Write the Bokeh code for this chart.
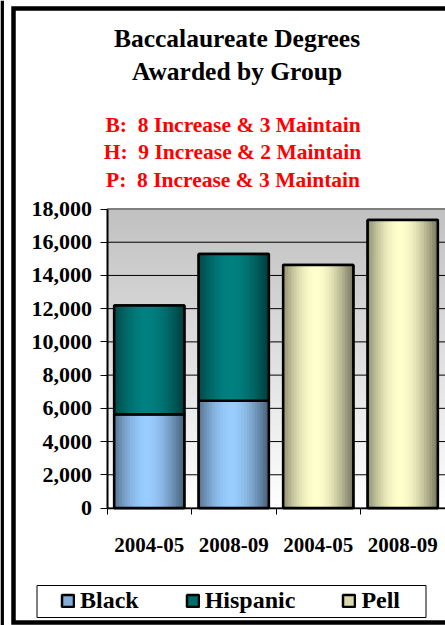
import math
from bokeh.plotting import figure
from bokeh.models import (Range1d, FixedTicker, NumeralTickFormatter, Label, Legend,
                          LegendItem, PolyAnnotation, ColumnDataSource)
from bokeh.embed import file_html
from bokeh.resources import INLINE

# ---------------- data ----------------
title_lines = ["Baccalaureate Degrees", "Awarded by Group"]
note_lines = ["B:\u00a0 8 Increase & 3 Maintain",
              "H:\u00a0 9 Increase & 2 Maintain",
              "P:\u00a0 8 Increase & 3 Maintain"]
years = ["2004-05", "2008-09", "2004-05", "2008-09"]
black = [5640, 6460]          # bars 1-2 (bottom segment)
hispanic = [6550, 8830]       # bars 1-2 (stacked on top)
pell = [14630, 17340]         # bars 3-4
y_ticks = [0, 2000, 4000, 6000, 8000, 10000, 12000, 14000, 16000, 18000]
series_names = ["Black", "Hispanic", "Pell"]

# ---------------- layout / styles ----------------
W, H = 445, 625
FONT = "Liberation Serif"
C_BLACK = (153, 204, 255)
C_HISP = (0, 128, 128)
C_PELL = (255, 255, 204)
BAR_W = 0.83
N_STRIPS = 26
YMAX = y_ticks[-1]
NCAT = len(years)

# plot area placement in canvas pixels
PX_L, PX_R = 106.5, 444.5      # x of category 0 edge and category 4 edge
PY_B, PY_T = 507.5, 208.5      # y of value 0 and value YMAX (from top)
ux = NCAT / (PX_R - PX_L)
uy = YMAX / (PY_B - PY_T)
x_range = Range1d(-PX_L * ux, NCAT + (W - PX_R) * ux)
y_range = Range1d(-(H - PY_B) * uy, YMAX + PY_T * uy)

p = figure(width=W, height=H, output_backend="svg", toolbar_location=None, tools="",
           x_range=x_range, y_range=y_range,
           min_border_left=0, min_border_right=0, min_border_top=0, min_border_bottom=0)
p.background_fill_color = "white"
p.border_fill_color = "white"
p.outline_line_color = None
p.xgrid.visible = False
p.ygrid.visible = False

# plot-area background: vertical gradient (grey at top to white at bottom)
nb = 60
bands = dict(bottom=[], top=[], color=[])
for i in range(nb):
    frac = (i + 0.5) / nb
    g = int(round(255 - (255 - 192) * frac))
    bands["bottom"].append(YMAX * i / nb)
    bands["top"].append(YMAX * (i + 1.2) / nb if i < nb - 1 else YMAX)
    bands["color"].append("#%02x%02x%02x" % (g, g, g))
p.quad(left=0, right=NCAT, bottom="bottom", top="top", fill_color="color",
       line_color=None, source=ColumnDataSource(bands))

# horizontal grid lines across the plot area
p.segment(x0=0, x1=NCAT, y0=y_ticks[:-1], y1=y_ticks[:-1], line_color="black", line_width=1)
p.segment(x0=0, x1=NCAT, y0=[YMAX], y1=[YMAX], line_color="#808080", line_width=2)


def hexcol(rgb, f):
    return "#%02x%02x%02x" % tuple(max(0, min(255, int(round(c * f)))) for c in rgb)


def shade(t):
    return 0.5 + 0.5 * math.cos(math.pi * (t - 0.47) / 1.02)


def strips(centers, bottoms, tops, rgb):
    d = dict(x=[], bottom=[], top=[], color=[])
    w = BAR_W / N_STRIPS
    for xc, b, tp in zip(centers, bottoms, tops):
        for i in range(N_STRIPS):
            t = (i + 0.5) / N_STRIPS
            d["x"].append(xc - BAR_W / 2 + (i + 0.5) * w)
            d["bottom"].append(b)
            d["top"].append(tp)
            d["color"].append(hexcol(rgb, shade(t)))
    return ColumnDataSource(d), w


centers_bh = [0.5, 1.5]
centers_p = [2.5, 3.5]
hisp_top = [b + h for b, h in zip(black, hispanic)]

segments = [
    ("Black", centers_bh, [0, 0], black, C_BLACK),
    ("Hispanic", centers_bh, black, hisp_top, C_HISP),
    ("Pell", centers_p, [0, 0], pell, C_PELL),
]
legend_renderers = {}
for name, xs, bots, tops, rgb in segments:
    base = p.vbar(x=xs, bottom=bots, top=tops, width=BAR_W, fill_color=hexcol(rgb, 0.85),
                  line_color="black", line_width=2.5)
    legend_renderers[name] = base
    src, w = strips(xs, bots, tops, rgb)
    p.vbar(x="x", bottom="bottom", top="top", width=w * 1.25, fill_color="color",
           line_color=None, source=src)
    p.vbar(x=xs, bottom=bots, top=tops, width=BAR_W, fill_color=None,
           line_color="black", line_width=2.5)

# ---------------- axes (pinned to the plot area) ----------------
p.yaxis.fixed_location = 0
p.yaxis.bounds = (0, YMAX)
p.yaxis.ticker = FixedTicker(ticks=y_ticks)
p.yaxis.formatter = NumeralTickFormatter(format="0,0")
p.yaxis.major_label_text_font = FONT
p.yaxis.major_label_text_font_style = "bold"
p.yaxis.major_label_text_font_size = "22px"
p.yaxis.major_label_text_color = "black"
p.yaxis.major_tick_in = 0
p.yaxis.major_tick_out = 7
p.yaxis.major_tick_line_color = "black"
p.yaxis.minor_tick_line_color = None
p.yaxis.axis_line_color = "black"
p.yaxis.axis_line_width = 2
p.yaxis.major_label_standoff = 8

centers = [i + 0.5 for i in range(NCAT)]
p.xaxis.fixed_location = 0
p.xaxis.bounds = (0, NCAT)
p.xaxis.ticker = FixedTicker(ticks=centers, minor_ticks=list(range(NCAT + 1)))
p.xaxis.major_label_overrides = {c: lab for c, lab in zip(centers, years)}
p.xaxis.major_tick_line_color = None
p.xaxis.major_tick_in = 0
p.xaxis.major_tick_out = 0
p.xaxis.minor_tick_in = 0
p.xaxis.minor_tick_out = 6
p.xaxis.minor_tick_line_color = "black"
p.xaxis.minor_tick_line_width = 1
p.xaxis.axis_line_color = "black"
p.xaxis.axis_line_width = 1.5
p.xaxis.major_label_text_font = FONT
p.xaxis.major_label_text_font_style = "bold"
p.xaxis.major_label_text_font_size = "21px"
p.xaxis.major_label_text_color = "black"
p.xaxis.major_label_standoff = 24

# ---------------- titles ----------------
for txt, (xx, yy) in zip(title_lines, [(236.5, 38), (236.5, 71)]):
    p.add_layout(Label(x=xx, y=H - yy, x_units="screen", y_units="screen", text=txt,
                       text_align="center", text_baseline="middle", text_font=FONT,
                       text_font_style="bold", text_font_size="25.5px", text_color="black"))
for txt, (xx, yy) in zip(note_lines, [(232.5, 124), (232, 151.5), (232.5, 179)]):
    p.add_layout(Label(x=xx, y=H - yy, x_units="screen", y_units="screen", text=txt,
                       text_align="center", text_baseline="middle", text_font=FONT,
                       text_font_style="bold", text_font_size="21.5px", text_color="#ff0000"))

# ---------------- chart border, side bar and legend box ----------------
p.add_layout(PolyAnnotation(xs=[1.7, 1.7], ys=[0, H], xs_units="screen", ys_units="screen",
                            fill_alpha=0, line_color="black", line_alpha=1, line_width=3.5))
p.add_layout(PolyAnnotation(xs=[W + 20, 13, 13, W + 20], ys=[H - 8, H - 8, H - 622, H - 622],
                            xs_units="screen", ys_units="screen", fill_alpha=0,
                            line_color="black", line_alpha=1, line_width=4.5,
                            line_join="miter"))
p.add_layout(PolyAnnotation(xs=[36.5, 425.5, 425.5, 36.5], ys=[H - 585, H - 585, H - 617, H - 617],
                            xs_units="screen", ys_units="screen", fill_alpha=0,
                            line_color="black", line_alpha=1, line_width=1))

legend = Legend(items=[LegendItem(label=n, renderers=[legend_renderers[n]]) for n in series_names],
                orientation="horizontal", location=(57, 8),
                border_line_alpha=0, background_fill_alpha=0,
                label_text_font=FONT, label_text_font_style="bold",
                label_text_font_size="24px", label_text_color="black",
                glyph_width=15, glyph_height=15, label_standoff=5, spacing=46,
                padding=3, margin=0)
p.add_layout(legend)

open("out.html", "w").write(file_html(p, INLINE))
